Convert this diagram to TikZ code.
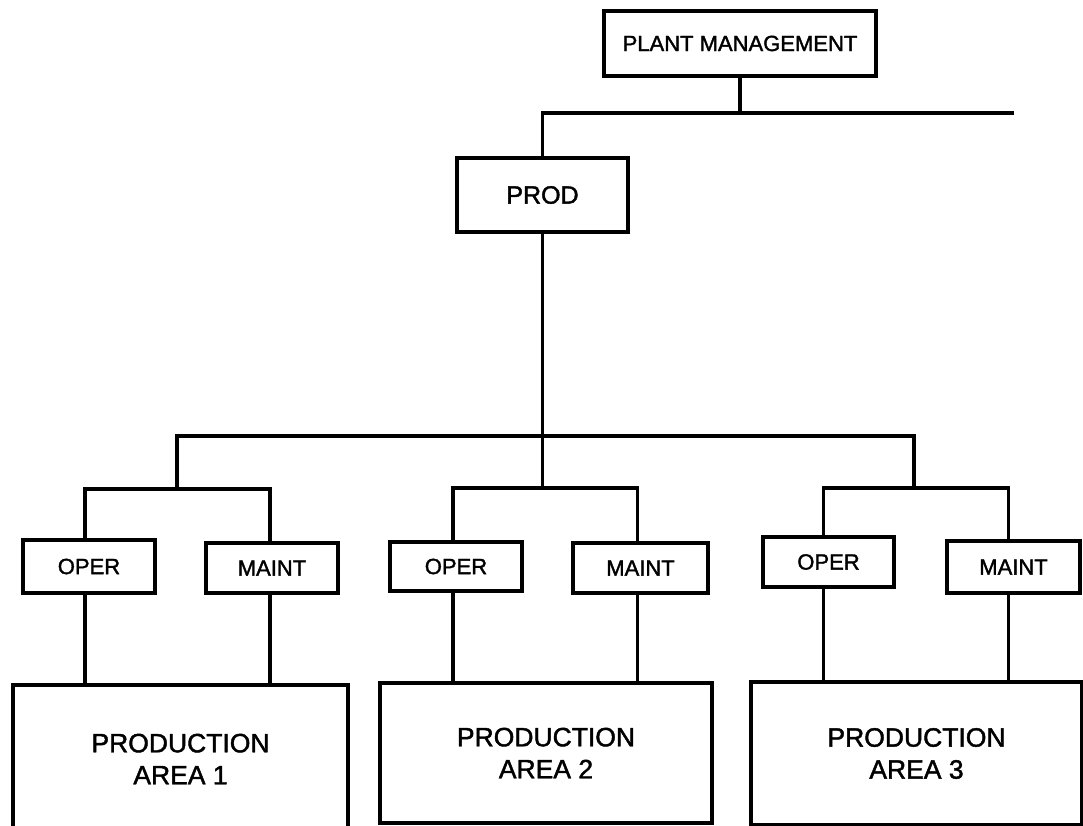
\documentclass[tikz,border=0pt]{standalone}
\usepackage{fontspec}
\setmainfont{Liberation Sans}[BoldFont=Liberation Sans, BoldFeatures={FakeBold=1.6}]
\begin{document}
\begin{tikzpicture}[x=1pt,y=-1pt,
  box/.style={draw, line width=3.8pt, inner sep=0pt, align=center},
  small/.style={font=\fontsize{22}{26}\selectfont\bfseries},
  big/.style={font=\fontsize{26.5}{32}\selectfont\bfseries},
  wire/.style={line width=3.8pt}]
\useasboundingbox (0,0) rectangle (1083,826);
% nodes
\node[box, small, minimum width=272pt, minimum height=65pt] (pm) at (740,43.5) {PLANT MANAGEMENT};
\node[box, font=\fontsize{25}{30}\selectfont\bfseries, minimum width=171pt, minimum height=74pt] (prod) at (542.5,195) {PROD};
\node[box, small, minimum width=132pt, minimum height=53pt] (oper1) at (89,566.5) {OPER};
\node[box, small, minimum width=132pt, minimum height=50pt] (maint1) at (272,568) {MAINT};
\node[box, small, minimum width=132pt, minimum height=49pt] (oper2) at (456,566.5) {OPER};
\node[box, small, minimum width=135pt, minimum height=50pt] (maint2) at (640.5,568) {MAINT};
\node[box, small, minimum width=131pt, minimum height=50pt] (oper3) at (828.5,562) {OPER};
\node[box, small, minimum width=133pt, minimum height=52pt] (maint3) at (1013.5,567) {MAINT};
\node[box, big, minimum width=335pt, minimum height=148pt] (area1) at (180.5,759) {PRODUCTION\\AREA 1};
\node[box, big, minimum width=332pt, minimum height=140pt] (area2) at (546,753) {PRODUCTION\\AREA 2};
\node[box, big, minimum width=331pt, minimum height=143pt] (area3) at (916.5,753.5) {PRODUCTION\\AREA 3};
% coordinates
\coordinate (tr) at (1014,113);
\coordinate (g1) at (177,436);
\coordinate (g3) at (914,436);
\coordinate (b1) at (177,489);
\coordinate (b2) at (542,488);
\coordinate (b3) at (914,488);
% connectors
\draw[wire] (pm.south) -- (pm.south |- tr);
\draw[wire] (prod.north) |- (tr);
\draw[wire] (prod.south) -- (prod.south |- b2);
\draw[wire] (b1) -- (g1) -- (g3) -- (b3);
\draw[wire] ([xshift=-4pt]oper1.north) |- (b1) -| ([xshift=-2pt]maint1.north);
\draw[wire] ([xshift=-3pt]oper2.north) |- (b2) -| ([xshift=-3pt]maint2.north);
\draw[wire] ([xshift=-5pt]oper3.north) |- (b3) -| ([xshift=-5pt]maint3.north);
\draw[wire] ([xshift=-4pt]oper1.south) -- ([xshift=-4pt]oper1.south |- area1.north);
\draw[wire] ([xshift=-2pt]maint1.south) -- ([xshift=-2pt]maint1.south |- area1.north);
\draw[wire] ([xshift=-3pt]oper2.south) -- ([xshift=-3pt]oper2.south |- area2.north);
\draw[wire] ([xshift=-3pt]maint2.south) -- ([xshift=-3pt]maint2.south |- area2.north);
\draw[wire] ([xshift=-5pt]oper3.south) -- ([xshift=-5pt]oper3.south |- area3.north);
\draw[wire] ([xshift=-5pt]maint3.south) -- ([xshift=-5pt]maint3.south |- area3.north);
\end{tikzpicture}
\end{document}
